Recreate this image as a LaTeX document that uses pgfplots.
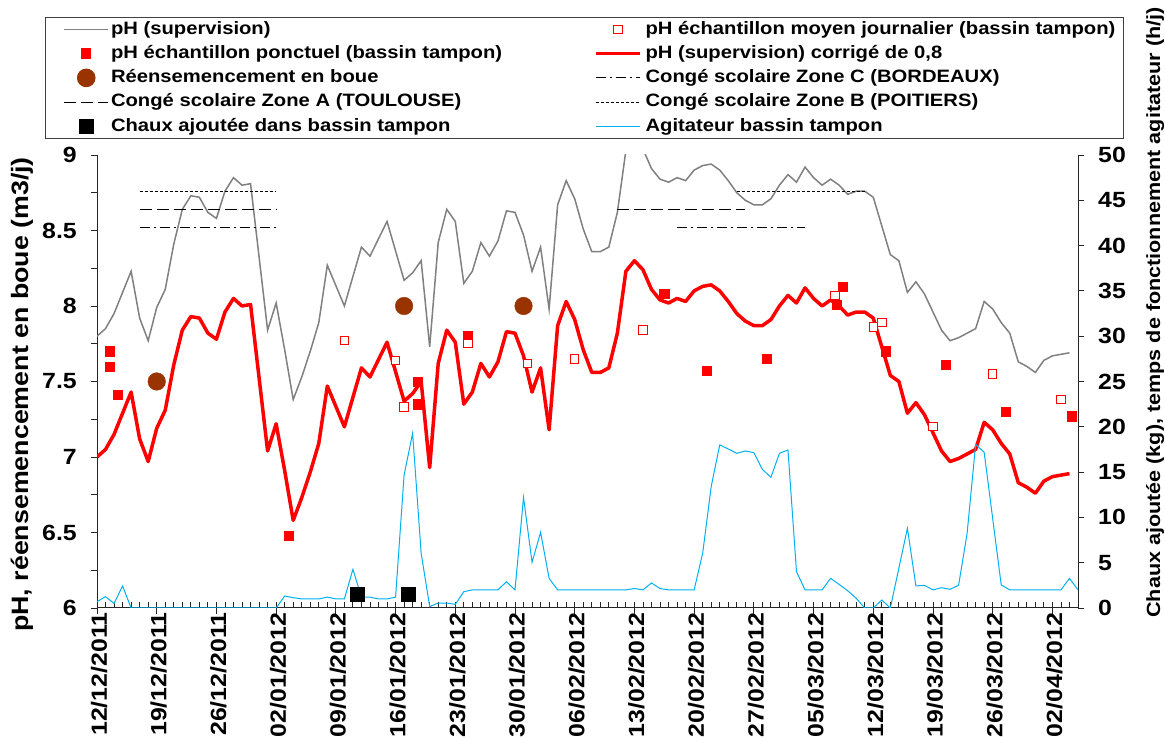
\documentclass[border=0pt]{standalone}
\usepackage{pgfplots}
\usepackage{pgfplotstable}
\pgfplotsset{compat=1.18}
\usepackage{fontspec}
\setmainfont{Liberation Sans}[FakeStretch=1.13]
\definecolor{phgray}{RGB}{128,128,128}
\definecolor{agit}{RGB}{0,176,240}
\definecolor{brn}{RGB}{153,51,0}
\newcommand\lf{\fontsize{17.9}{22}\selectfont\bfseries}
\newcommand\tf{\fontsize{22}{26}\selectfont\bfseries}
\newcommand\afl{\fontsize{23.7}{28}\selectfont\bfseries}
\newcommand\afr{\fontsize{19.1}{23}\selectfont\bfseries}

\pgfplotstableread{
d r g
0 7.00 7.80
1 7.05 7.85
2 7.15 7.95
3 7.29 8.09
4 7.43 8.23
5 7.12 7.92
6 6.97 7.77
7 7.19 7.99
8 7.31 8.11
9 7.61 8.41
10 7.84 8.64
11 7.93 8.73
12 7.92 8.72
13 7.82 8.62
14 7.78 8.58
15 7.96 8.76
16 8.05 8.85
17 8.00 8.80
18 8.01 8.81
20 7.04 7.84
21 7.22 8.02
22 6.91 7.71
23 6.58 7.38
24 6.73 7.53
25 6.90 7.70
26 7.09 7.89
27 7.47 8.27
29 7.20 8.00
31 7.59 8.39
32 7.53 8.33
34 7.76 8.56
36 7.37 8.17
37 7.42 8.22
38 7.50 8.30
39 6.93 7.73
40 7.62 8.42
41 7.84 8.64
42 7.76 8.56
43 7.35 8.15
44 7.43 8.23
45 7.62 8.42
46 7.53 8.33
47 7.63 8.43
48 7.83 8.63
49 7.82 8.62
50 7.67 8.47
51 7.43 8.23
52 7.59 8.39
53 7.18 7.98
54 7.87 8.67
55 8.03 8.83
56 7.91 8.71
57 7.71 8.51
58 7.56 8.36
59 7.56 8.36
60 7.59 8.39
61 7.82 8.62
62 8.23 9.03
63 8.30 9.10
64 8.24 9.04
65 8.11 8.91
66 8.04 8.84
67 8.02 8.82
68 8.05 8.85
69 8.03 8.83
70 8.10 8.90
71 8.13 8.93
72 8.14 8.94
73 8.10 8.90
74 8.03 8.83
75 7.95 8.75
76 7.90 8.70
77 7.87 8.67
78 7.87 8.67
79 7.91 8.71
80 8.00 8.80
81 8.07 8.87
82 8.02 8.82
83 8.12 8.92
84 8.05 8.85
85 8.00 8.80
86 8.04 8.84
87 8.00 8.80
88 7.94 8.74
89 7.96 8.76
90 7.96 8.76
91 7.92 8.72
93 7.54 8.34
94 7.50 8.30
95 7.29 8.09
96 7.36 8.16
97 7.28 8.08
98 7.16 7.96
99 7.04 7.84
100 6.97 7.77
101 6.99 7.79
102 7.02 7.82
103 7.05 7.85
104 7.23 8.03
105 7.18 7.98
106 7.09 7.89
107 7.02 7.82
108 6.83 7.63
109 6.80 7.60
110 6.76 7.56
111 6.84 7.64
112 6.87 7.67
113 6.88 7.68
114 6.89 7.69
}\phdata

\pgfplotstableread{
d a
0 0.7
1 1.25
2 0.5
3 2.43
4 0
5 0
6 0
7 0
8 0
9 0
10 0
11 0
12 0
13 0
14 0
15 0
16 0
17 0
18 0
19 0
20 0
21 0
22 1.32
23 1.14
24 1.0
25 1.0
26 1.0
27 1.2
28 1.0
29 1.0
30 4.27
31 1.2
32 1.2
33 1.0
34 1.0
35 1.2
36 14.68
37 19.28
38 6.04
39 0.15
40 0.55
41 0.55
42 0.4
43 1.8
44 2.0
45 2.0
46 2.0
47 2.0
48 2.9
49 2.0
50 12.2
51 5.04
52 8.35
53 3.27
54 2.0
55 2.0
56 2.0
57 2.0
58 2.0
59 2.0
60 2.0
61 2.0
62 2.0
63 2.15
64 2.0
65 2.76
66 2.15
67 2.0
68 2.0
69 2.0
70 2.0
71 6.04
72 13.4
73 18.0
74 17.55
75 17.07
76 17.33
77 17.15
78 15.3
79 14.42
80 17.07
81 17.44
82 4.0
83 2.0
84 2.0
85 2.0
86 3.27
87 2.6
88 1.9
89 1.07
90 0
91 0
92 0.88
93 0
95 8.8
96 2.43
97 2.5
98 2.0
99 2.24
100 2.06
101 2.5
102 8.24
103 18.06
104 17.18
106 2.54
107 2.0
108 2.0
109 2.0
110 2.0
111 2.0
112 2.0
113 2.0
114 3.27
115 2.0
}\agdata

\begin{document}
\begin{tikzpicture}
\pgfplotsset{
  base/.style={
    at={(97pt,130pt)}, anchor=south west,
    width=981pt, height=453pt, scale only axis,
    xmin=0, xmax=115,
    axis line style={black!85, line width=1pt},
    major tick length=6pt, minor tick length=6pt,
    tick align=outside,
    every tick/.style={black!85, line width=0.9pt},
    every minor tick/.style={black!85, line width=0.9pt},
    clip=true,
  }
}
\begin{axis}[base,
  ymin=6, ymax=9,
  axis x line*=bottom, axis y line*=left,
  xtick={0,7,...,112},
  xticklabels={12/12/2011,19/12/2011,26/12/2011,02/01/2012,09/01/2012,16/01/2012,23/01/2012,30/01/2012,06/02/2012,13/02/2012,20/02/2012,27/02/2012,05/03/2012,12/03/2012,19/03/2012,26/03/2012,02/04/2012},
  minor xtick={0,1,...,115},
  minor x tick style={yshift=6pt},
  xticklabel style={rotate=90, anchor=east, font=\tf, inner sep=0pt, yshift=-2pt, xshift=1.5pt},
  ytick={6,6.5,...,9},
  yticklabels={6,6.5,7,7.5,8,8.5,9},
  minor ytick={6.25,6.75,...,8.75},
  yticklabel style={font=\tf, inner sep=0pt, anchor=east, xshift=-14pt},
  ylabel={pH, réensemencement en boue (m3/j)},
  every axis y label/.style={at={(axis description cs:-0.0765,-0.053)}, rotate=90, anchor=west, inner sep=0pt, font=\afl},
]
\addplot[phgray, line width=1.5pt, forget plot] table[x=d, y=g] {\phdata};
\addplot[red, line width=3.5pt, line join=round, forget plot] table[x=d, y=r] {\phdata};
% holidays
\addplot[black, line width=1.2pt, dash pattern=on 3pt off 2pt, forget plot] coordinates {(5,8.76) (21,8.76)};
\addplot[black, line width=1.2pt, dash pattern=on 3pt off 2pt, forget plot] coordinates {(75,8.76) (90,8.76)};
\addplot[black, line width=1.2pt, dash pattern=on 12pt off 5pt, forget plot] coordinates {(5,8.64) (21,8.64)};
\addplot[black, line width=1.2pt, dash pattern=on 12pt off 5pt, forget plot] coordinates {(61,8.64) (76,8.64)};
\addplot[black, line width=1.2pt, dash pattern=on 10pt off 4pt on 2pt off 4pt, forget plot] coordinates {(5,8.52) (21,8.52)};
\addplot[black, line width=1.2pt, dash pattern=on 10pt off 4pt on 2pt off 4pt, forget plot] coordinates {(68,8.52) (83,8.52)};
% reensemencement
\addplot[only marks, mark=*, mark size=8.8pt, mark options={fill=brn, draw=brn}, forget plot] coordinates {(7,7.5) (36,8.0) (50,8.0)};
% ponctuel
\addplot[only marks, mark=square*, mark size=4.6pt, mark options={fill=red, draw=red}, forget plot] coordinates {
(1.5,7.70) (1.5,7.60) (2.4,7.41) (22.5,6.48) (37.6,7.50) (37.6,7.35) (43.5,7.80) (66.5,8.08) (71.5,7.57) (78.5,7.65) (87.4,8.13) (86.7,8.01) (92.5,7.70) (99.5,7.61) (106.5,7.30) (114.3,7.27)};
% moyen journalier
\addplot[only marks, mark=square*, mark size=4.2pt, mark options={fill=white, draw=red, line width=1pt}, forget plot] coordinates {
(29.0,7.77) (35.0,7.64) (36.0,7.33) (43.5,7.75) (50.5,7.62) (56.0,7.65) (64.0,7.84) (86.5,8.07) (91.0,7.86) (92.0,7.89) (98.0,7.20) (105.0,7.55) (113.0,7.38)};
\end{axis}

\begin{axis}[base,
  ymin=0, ymax=50,
  axis x line=none, axis y line*=right,
  ytick={0,5,...,50},
  yticklabels={0,5,10,15,20,25,30,35,40,45,50},
  yticklabel style={font=\tf, inner sep=0pt, anchor=west, xshift=14pt},
  ylabel={Chaux ajoutée (kg), temps de fonctionnement agitateur (h/j)},
  every axis y label/.style={at={(axis description cs:1.0785,-0.022)}, rotate=90, anchor=west, inner sep=0pt, font=\afr},
  legend columns=2,
  legend cell align=left,
  legend image code/.code={\path (0pt,0pt); \draw[mark repeat=2,mark phase=2,#1] plot coordinates {(11pt,0pt) (33pt,0pt) (55pt,0pt)};},
  legend style={
    at={(axis description cs:-0.0530,1.3046)}, anchor=north west,
    draw=black!75, line width=1pt, fill=white,
    inner xsep=7pt, inner ysep=2pt,
    font=\lf,
    nodes={inner sep=1pt, text height=13.5pt, text depth=4pt},
    row sep=4.8pt,
    /tikz/column 1/.style={column sep=1pt},
    /tikz/column 2/.style={column sep=80pt},
    /tikz/column 3/.style={column sep=3pt},
  },
]
\addplot[agit, line width=1pt, forget plot] table[x=d, y=a] {\agdata};
\addplot[only marks, mark=square*, mark size=7.2pt, mark options={fill=black, draw=black}, forget plot] coordinates {(30.5,1.5) (36.5,1.5)};

\addlegendimage{phgray, line width=1.5pt}
\addlegendentry{pH (supervision)}
\addlegendimage{only marks, mark=square*, mark size=4.2pt, mark options={fill=white, draw=red, line width=1pt}}
\addlegendentry{pH échantillon moyen journalier (bassin tampon)}
\addlegendimage{only marks, mark=square*, mark size=4.6pt, mark options={fill=red, draw=red}}
\addlegendentry{pH échantillon ponctuel (bassin tampon)}
\addlegendimage{red, line width=3.5pt}
\addlegendentry{pH (supervision) corrigé de 0,8}
\addlegendimage{only marks, mark=*, mark size=8.8pt, mark options={fill=brn, draw=brn}}
\addlegendentry{Réensemencement en boue}
\addlegendimage{black, line width=1.2pt, dash pattern=on 10pt off 4pt on 2pt off 4pt}
\addlegendentry{Congé scolaire Zone C (BORDEAUX)}
\addlegendimage{black, line width=1.2pt, dash pattern=on 12pt off 5pt}
\addlegendentry{Congé scolaire Zone A (TOULOUSE)}
\addlegendimage{black, line width=1.2pt, dash pattern=on 3pt off 2pt}
\addlegendentry{Congé scolaire Zone B (POITIERS)}
\addlegendimage{only marks, mark=square*, mark size=7.2pt, mark options={fill=black, draw=black}}
\addlegendentry{Chaux ajoutée dans bassin tampon}
\addlegendimage{agit, line width=1.5pt}
\addlegendentry{Agitateur bassin tampon}
\end{axis}
\pgfresetboundingbox
\useasboundingbox (0,0) rectangle (1165pt,738pt);
\end{tikzpicture}
\end{document}
